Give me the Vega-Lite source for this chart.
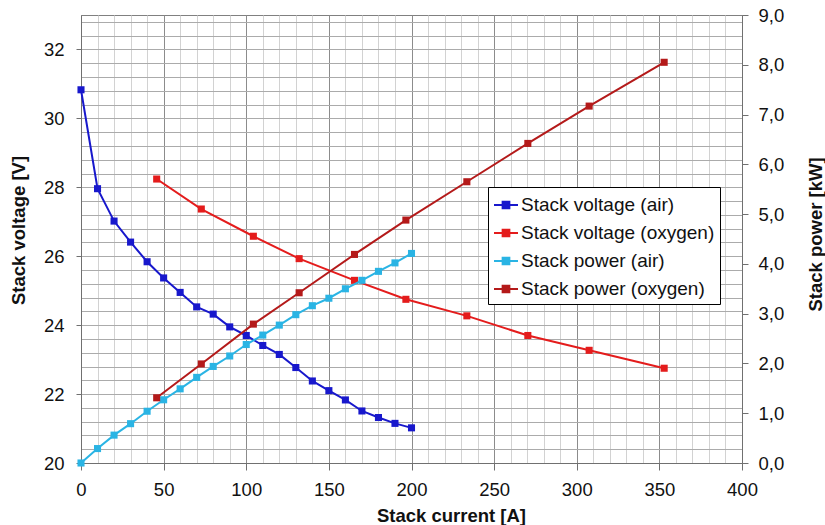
{
  "$schema": "https://vega.github.io/schema/vega-lite/v6.json",
  "width": 661,
  "height": 448,
  "autosize": "none",
  "padding": {"left": 81, "top": 15, "right": 83, "bottom": 62},
  "background": "white",
  "config": {
    "font": "Liberation Sans",
    "view": {"stroke": "#808080", "strokeWidth": 1},
    "axis": {
      "labelFont": "Liberation Sans",
      "labelFontSize": 18.5,
      "labelColor": "#111111",
      "titleFont": "Liberation Sans",
      "titleFontSize": 18.5,
      "titleFontWeight": "bold",
      "titleColor": "#111111",
      "domainColor": "#707070",
      "tickColor": "#707070",
      "labelOverlap": false,
      "labelFlush": false,
      "labelBound": false
    }
  },
  "datasets": {
    "voltage": [
      {"current": 0, "value": 30.83, "series": "Stack voltage (air)"},
      {"current": 10, "value": 27.96, "series": "Stack voltage (air)"},
      {"current": 20, "value": 27.02, "series": "Stack voltage (air)"},
      {"current": 30, "value": 26.41, "series": "Stack voltage (air)"},
      {"current": 40, "value": 25.84, "series": "Stack voltage (air)"},
      {"current": 50, "value": 25.37, "series": "Stack voltage (air)"},
      {"current": 60, "value": 24.95, "series": "Stack voltage (air)"},
      {"current": 70, "value": 24.53, "series": "Stack voltage (air)"},
      {"current": 80, "value": 24.32, "series": "Stack voltage (air)"},
      {"current": 90, "value": 23.95, "series": "Stack voltage (air)"},
      {"current": 100, "value": 23.70, "series": "Stack voltage (air)"},
      {"current": 110, "value": 23.41, "series": "Stack voltage (air)"},
      {"current": 120, "value": 23.15, "series": "Stack voltage (air)"},
      {"current": 130, "value": 22.77, "series": "Stack voltage (air)"},
      {"current": 140, "value": 22.38, "series": "Stack voltage (air)"},
      {"current": 150, "value": 22.10, "series": "Stack voltage (air)"},
      {"current": 160, "value": 21.83, "series": "Stack voltage (air)"},
      {"current": 170, "value": 21.51, "series": "Stack voltage (air)"},
      {"current": 180, "value": 21.32, "series": "Stack voltage (air)"},
      {"current": 190, "value": 21.15, "series": "Stack voltage (air)"},
      {"current": 200, "value": 21.02, "series": "Stack voltage (air)"},
      {"current": 45.8, "value": 28.24, "series": "Stack voltage (oxygen)"},
      {"current": 72.8, "value": 27.37, "series": "Stack voltage (oxygen)"},
      {"current": 104.3, "value": 26.58, "series": "Stack voltage (oxygen)"},
      {"current": 132.0, "value": 25.93, "series": "Stack voltage (oxygen)"},
      {"current": 165.5, "value": 25.30, "series": "Stack voltage (oxygen)"},
      {"current": 196.6, "value": 24.75, "series": "Stack voltage (oxygen)"},
      {"current": 233.5, "value": 24.27, "series": "Stack voltage (oxygen)"},
      {"current": 270.4, "value": 23.70, "series": "Stack voltage (oxygen)"},
      {"current": 307.5, "value": 23.27, "series": "Stack voltage (oxygen)"},
      {"current": 352.9, "value": 22.75, "series": "Stack voltage (oxygen)"}
    ],
    "power": [
      {"current": 0, "value": 0.0, "series": "Stack power (air)"},
      {"current": 10, "value": 0.29, "series": "Stack power (air)"},
      {"current": 20, "value": 0.56, "series": "Stack power (air)"},
      {"current": 30, "value": 0.79, "series": "Stack power (air)"},
      {"current": 40, "value": 1.04, "series": "Stack power (air)"},
      {"current": 50, "value": 1.27, "series": "Stack power (air)"},
      {"current": 60, "value": 1.49, "series": "Stack power (air)"},
      {"current": 70, "value": 1.72, "series": "Stack power (air)"},
      {"current": 80, "value": 1.94, "series": "Stack power (air)"},
      {"current": 90, "value": 2.15, "series": "Stack power (air)"},
      {"current": 100, "value": 2.38, "series": "Stack power (air)"},
      {"current": 110, "value": 2.57, "series": "Stack power (air)"},
      {"current": 120, "value": 2.77, "series": "Stack power (air)"},
      {"current": 130, "value": 2.98, "series": "Stack power (air)"},
      {"current": 140, "value": 3.16, "series": "Stack power (air)"},
      {"current": 150, "value": 3.31, "series": "Stack power (air)"},
      {"current": 160, "value": 3.50, "series": "Stack power (air)"},
      {"current": 170, "value": 3.67, "series": "Stack power (air)"},
      {"current": 180, "value": 3.85, "series": "Stack power (air)"},
      {"current": 190, "value": 4.02, "series": "Stack power (air)"},
      {"current": 200, "value": 4.21, "series": "Stack power (air)"},
      {"current": 45.8, "value": 1.31, "series": "Stack power (oxygen)"},
      {"current": 72.8, "value": 1.99, "series": "Stack power (oxygen)"},
      {"current": 104.3, "value": 2.79, "series": "Stack power (oxygen)"},
      {"current": 132.0, "value": 3.42, "series": "Stack power (oxygen)"},
      {"current": 165.5, "value": 4.19, "series": "Stack power (oxygen)"},
      {"current": 196.6, "value": 4.88, "series": "Stack power (oxygen)"},
      {"current": 233.5, "value": 5.65, "series": "Stack power (oxygen)"},
      {"current": 270.4, "value": 6.42, "series": "Stack power (oxygen)"},
      {"current": 307.5, "value": 7.17, "series": "Stack power (oxygen)"},
      {"current": 352.9, "value": 8.05, "series": "Stack power (oxygen)"}
    ]
  },
  "encoding": {
    "x": {
      "field": "current",
      "type": "quantitative",
      "scale": {"domain": [0, 400], "nice": false, "zero": false},
      "axis": {
        "title": "Stack current [A]",
        "values": [0, 10, 20, 30, 40, 50, 60, 70, 80, 90, 100, 110, 120, 130, 140, 150, 160, 170, 180, 190, 200, 210, 220, 230, 240, 250, 260, 270, 280, 290, 300, 310, 320, 330, 340, 350, 360, 370, 380, 390, 400],
        "labelExpr": "datum.value % 50 === 0 ? format(datum.value, 'd') : ''",
        "grid": true,
        "gridColor": {"condition": {"test": "datum.value % 50 === 0", "value": "#8c8c8c"}, "value": "#d2d2d2"},
        "gridWidth": 1,
        "tickSize": 7,
        "tickOpacity": {"condition": {"test": "datum.value % 50 === 0", "value": 1}, "value": 0},
        "labelPadding": 10,
        "titleX": 370,
        "titleY": 58,
        "titleAlign": "center",
        "titleBaseline": "alphabetic"
      }
    },
    "color": {
      "field": "series",
      "type": "nominal",
      "scale": {
        "domain": ["Stack voltage (air)", "Stack voltage (oxygen)", "Stack power (air)", "Stack power (oxygen)"],
        "range": ["#1818cc", "#e41c1c", "#2ab4e4", "#b41a1a"]
      },
      "legend": {
        "title": null,
        "orient": "none",
        "legendX": 407,
        "legendY": 172,
        "fillColor": "white",
        "strokeColor": "#000000",
        "padding": 5,
        "rowPadding": 5,
        "labelFont": "Liberation Sans",
        "labelFontSize": 19,
        "labelColor": "#111111",
        "labelLimit": 0,
        "labelOffset": 2,
        "symbolType": "M-1,0L1,0M-0.28,-0.28L0.28,-0.28L0.28,0.28L-0.28,0.28Z",
        "symbolSize": 576,
        "symbolStrokeWidth": 2,
        "symbolOpacity": 1,
        "encode": {
          "symbols": {
            "update": {
              "fill": {"scale": "color", "field": "value"},
              "stroke": {"scale": "color", "field": "value"}
            }
          }
        }
      }
    }
  },
  "layer": [
    {
      "data": {"name": "voltage"},
      "encoding": {
        "y": {
          "field": "value",
          "type": "quantitative",
          "scale": {"domain": [20, 33], "nice": false, "zero": false},
          "axis": {
            "title": "Stack voltage [V]",
            "orient": "left",
            "values": [20, 20.4, 20.8, 21.2, 21.6, 22, 22.4, 22.8, 23.2, 23.6, 24, 24.4, 24.8, 25.2, 25.6, 26, 26.4, 26.8, 27.2, 27.6, 28, 28.4, 28.8, 29.2, 29.6, 30, 30.4, 30.8, 31.2, 31.6, 32, 32.4, 32.8],
            "labelExpr": "datum.value % 2 === 0 ? format(datum.value, 'd') : ''",
            "grid": true,
            "gridColor": "#ababab",
            "gridWidth": 1,
            "tickSize": 5,
            "tickOpacity": {"condition": {"test": "datum.value % 2 === 0", "value": 1}, "value": 0},
            "labelPadding": 12,
            "titleAngle": 270,
            "titleAlign": "center",
            "titleBaseline": "middle",
            "titleX": -63,
            "titleY": 215
          }
        }
      },
      "layer": [
        {"mark": {"type": "line", "strokeWidth": 2}},
        {"mark": {"type": "point", "shape": "square", "filled": true, "size": 50, "opacity": 1}}
      ]
    },
    {
      "data": {"name": "power"},
      "encoding": {
        "y": {
          "field": "value",
          "type": "quantitative",
          "scale": {"domain": [0, 9], "nice": false, "zero": false},
          "axis": {
            "title": "Stack power [kW]",
            "orient": "right",
            "values": [0, 1, 2, 3, 4, 5, 6, 7, 8, 9],
            "labelExpr": "replace(format(datum.value, '.1f'), '.', ',')",
            "grid": false,
            "tickSize": 6,
            "labelPadding": 10,
            "titleAngle": 270,
            "titleAlign": "center",
            "titleBaseline": "middle",
            "titleX": 73,
            "titleY": 219
          }
        }
      },
      "layer": [
        {"mark": {"type": "line", "strokeWidth": 2}},
        {"mark": {"type": "point", "shape": "square", "filled": true, "size": 50, "opacity": 1}}
      ]
    }
  ],
  "resolve": {"scale": {"y": "independent"}}
}
